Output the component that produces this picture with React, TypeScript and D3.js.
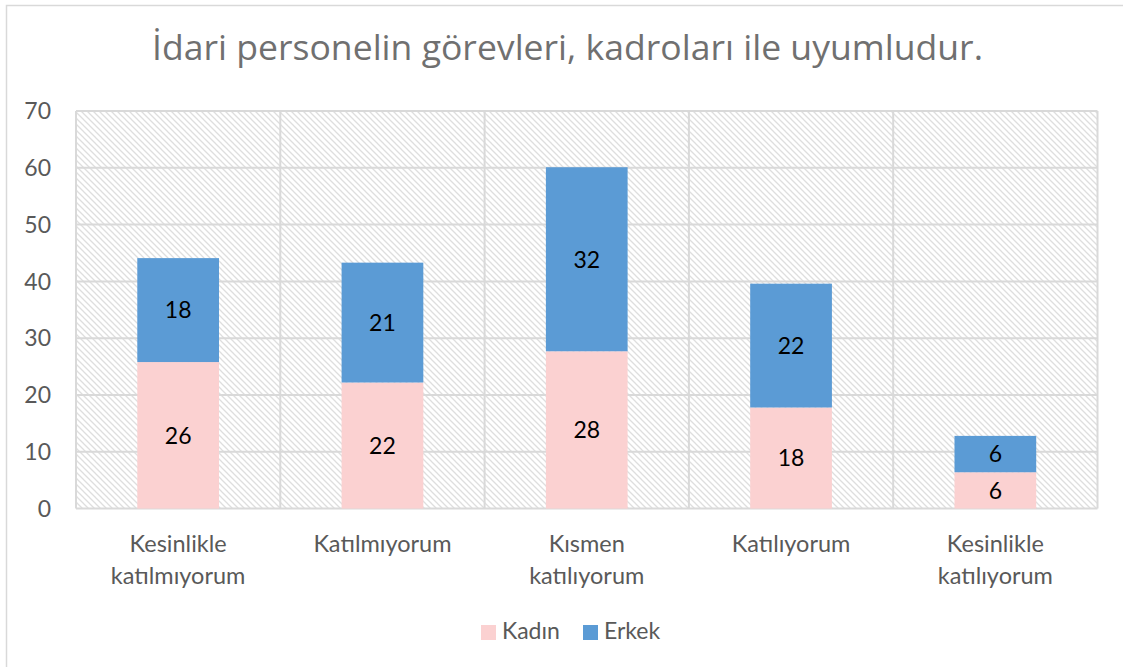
import React from "react";
import * as d3 from "d3";

const title = "İdari personelin görevleri, kadroları ile uyumludur.";
const categories = ["Kesinlikle katılmıyorum", "Katılmıyorum", "Kısmen katılıyorum", "Katılıyorum", "Kesinlikle katılıyorum"];
const categoryLines = [["Kesinlikle", "katılmıyorum"], ["Katılmıyorum"], ["Kısmen", "katılıyorum"], ["Katılıyorum"], ["Kesinlikle", "katılıyorum"]];
const seriesNames = ["Kadın", "Erkek"];
const kadin = [25.8, 22.2, 27.7, 17.8, 6.4];
const erkek = [18.3, 21.1, 32.4, 21.8, 6.4];
const yTicks = [0, 10, 20, 30, 40, 50, 60, 70];
const colors = ["#FBD1D1", "#5B9BD5"];

const W = 1123, H = 667;
const L = 76, R = 1097.5, T = 111, B = 508.6;
const FONT = "Lato, 'Open Sans', sans-serif";
const GRAY = "#595959";

export default function App() {
  const x = d3.scaleBand<string>().domain(categories).range([L, R]).paddingInner(0.6).paddingOuter(0.3);
  const y = d3.scaleLinear().domain([0, 70]).range([B, T]);
  const step = x.step();
  const rows = categories.map((c, i) => ({ cat: c, Kadın: kadin[i], Erkek: erkek[i] }));
  const stack = d3.stack<any>().keys(seriesNames)(rows);
  const fmt = d3.format(".0f");

  return (
    <svg width={W} height={H} style={{ position: "absolute", left: 0, top: 0, background: "#fff" }}>
      <defs>
        <pattern id="hatch" patternUnits="userSpaceOnUse" width={6} height={6}>
          <rect width={6} height={6} fill="#fff" />
          <path d="M0,0 L6,6 M-3,3 L0,6 M3,-3 L6,0 M-1,5 L1,7 M5,-1 L7,1" stroke="#dedede" strokeWidth={1.3} />
        </pattern>
      </defs>
      <rect x={0} y={0} width={W} height={H} fill="#fff" />
      <rect x={6.5} y={5.5} width={1140} height={700} fill="none" stroke="#d9d9d9" strokeWidth={1.5} />
      <text x={567.5} y={60} textAnchor="middle" fontFamily="'Open Sans', sans-serif" fontWeight={400} fontSize={34} fill="#707070"
        textLength={831} lengthAdjust="spacingAndGlyphs">{title}</text>

      <rect x={L} y={T} width={R - L} height={B - T} fill="url(#hatch)" />
      {yTicks.map((t) => (
        <line key={"h" + t} x1={L} x2={R} y1={y(t)} y2={y(t)} stroke="#d9d9d9" strokeWidth={2} />
      ))}
      {d3.range(categories.length + 1).map((i) => (
        <line key={"v" + i} x1={L + i * step} x2={L + i * step} y1={T} y2={B} stroke="#d9d9d9" strokeWidth={2} />
      ))}
      {yTicks.map((t) => (
        <text key={"t" + t} x={51} y={y(t)} dy="0.36em" textAnchor="end" fontFamily={FONT} fontSize={23} fill={GRAY}>{t}</text>
      ))}

      {stack.map((s, si) => (
        <g key={s.key}>
          {s.map((d, i) => (
            <rect key={i} x={x(categories[i])!} width={x.bandwidth()} y={y(d[1])} height={y(d[0]) - y(d[1])} fill={colors[si]} />
          ))}
          {s.map((d, i) => (
            <text key={"l" + i} x={x(categories[i])! + x.bandwidth() / 2} y={(y(d[0]) + y(d[1])) / 2} dy="0.36em"
              textAnchor="middle" fontFamily={FONT} fontSize={23} fill="#000">{fmt(d[1] - d[0])}</text>
          ))}
        </g>
      ))}

      {categoryLines.map((lines, i) => (
        <text key={"c" + i} textAnchor="middle" fontFamily={FONT} fontSize={23.5} fill={GRAY}>
          {lines.map((ln, j) => (
            <tspan key={j} x={x(categories[i])! + x.bandwidth() / 2} y={552 + j * 32}>{ln}</tspan>
          ))}
        </text>
      ))}

      {seriesNames.map((n, i) => {
        const lx = [481, 583][i];
        return (
          <g key={n}>
            <rect x={lx} y={625} width={15} height={15} fill={colors[i]} />
            <text x={lx + 21} y={639} fontFamily={FONT} fontSize={23} fill={GRAY}>{n}</text>
          </g>
        );
      })}
    </svg>
  );
}
